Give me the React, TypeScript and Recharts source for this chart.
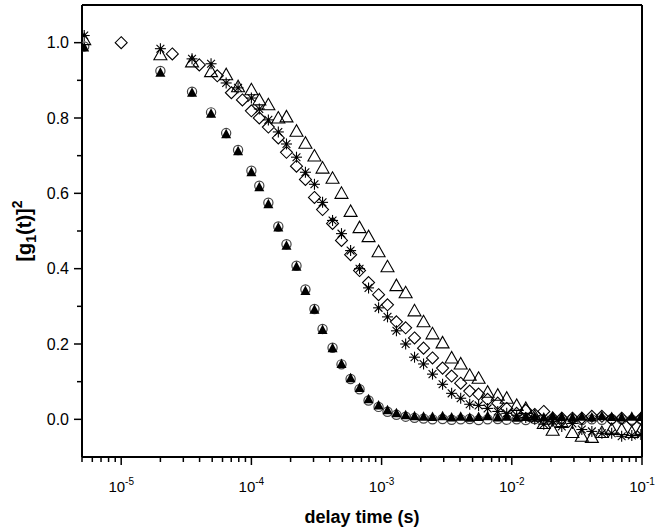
import { ScatterChart, Scatter, XAxis, YAxis, ReferenceLine } from "recharts";

// delay times (s) shared by most runs
const lagTimes = [
  5.2e-6, 2.0e-5, 3.5e-5, 4.9e-5, 6.4e-5, 7.9e-5, 1.0e-4, 1.15e-4, 1.35e-4, 1.61e-4,
  1.86e-4, 2.22e-4, 2.6e-4, 3.05e-4, 3.52e-4, 4.2e-4, 4.92e-4, 5.78e-4, 6.77e-4, 7.94e-4,
  9.48e-4, 1.11e-3, 1.3e-3, 1.53e-3, 1.79e-3, 2.1e-3, 2.46e-3, 2.94e-3, 3.45e-3, 4.05e-3,
  4.75e-3, 5.56e-3, 6.52e-3, 7.8e-3, 9.14e-3, 1.09e-2, 1.28e-2, 1.5e-2, 1.76e-2, 2.06e-2,
  2.42e-2, 2.92e-2, 3.45e-2, 4.12e-2, 4.92e-2, 5.85e-2, 6.98e-2, 8.35e-2, 9.8e-2,
];

const diamondTimes = [
  1.0e-5, 2.47e-5, 3.98e-5, 5.47e-5, 7.02e-5, 8.53e-5, 1.0e-4, 1.15e-4, 1.35e-4, 1.61e-4,
  1.86e-4, 2.22e-4, 2.6e-4, 3.05e-4, 3.52e-4, 4.2e-4, 4.92e-4, 5.78e-4, 6.77e-4, 7.94e-4,
  9.48e-4, 1.11e-3, 1.3e-3, 1.53e-3, 1.79e-3, 2.1e-3, 2.46e-3, 2.94e-3, 3.45e-3, 4.05e-3,
  4.75e-3, 5.56e-3, 6.52e-3, 7.8e-3, 9.14e-3, 1.09e-2, 1.28e-2, 1.5e-2, 1.76e-2, 2.06e-2,
  2.42e-2, 2.92e-2, 3.45e-2, 4.12e-2, 4.92e-2, 5.85e-2, 6.98e-2, 8.35e-2, 9.8e-2,
];

const circleValues = [
  0.99, 0.925, 0.87, 0.815, 0.76, 0.715, 0.66, 0.62, 0.575, 0.512,
  0.465, 0.408, 0.345, 0.293, 0.24, 0.19, 0.146, 0.107, 0.08, 0.05,
  0.033, 0.02, 0.012, 0.007, 0.004, 0.002, 0.0, 0.001, -0.001, 0.0,
  0.001, -0.002, 0.0, 0.001, -0.001, 0.0, -0.002, 0.001, 0.0, -0.001,
  0.0, 0.001, -0.002, 0.0, -0.001, 0.001, 0.0, -0.001, 0.0,
];

const filledTriangleValues = [
  0.987, 0.92, 0.867, 0.811, 0.757, 0.712, 0.656, 0.616, 0.571, 0.509,
  0.461, 0.405, 0.341, 0.291, 0.237, 0.189, 0.147, 0.109, 0.083, 0.053,
  0.037, 0.024, 0.016, 0.011, 0.008, 0.007, 0.006, 0.008, 0.005, 0.007,
  0.004, 0.006, 0.008, 0.005, 0.007, 0.004, 0.006, 0.007, 0.005, 0.008,
  0.006, 0.004, 0.007, 0.005, 0.008, 0.006, 0.005, 0.007, 0.006,
];

const diamondValues = [
  1.0, 0.97, 0.941, 0.912, 0.867, 0.848, 0.819, 0.8, 0.776, 0.747,
  0.709, 0.672, 0.637, 0.589, 0.557, 0.52, 0.475, 0.437, 0.395, 0.363,
  0.331, 0.304, 0.259, 0.243, 0.216, 0.189, 0.163, 0.136, 0.115, 0.096,
  0.075, 0.067, 0.053, 0.043, 0.029, 0.016, 0.024, 0.013, 0.021, 0.003,
  0.003, 0.003, 0.003, 0.008, 0.008, 0.0, 0.003, -0.003, 0.002,
];

const starValues = [
  1.019, 0.984, 0.957, 0.944, 0.893, 0.88, 0.853, 0.824, 0.795, 0.763,
  0.731, 0.696, 0.656, 0.624, 0.576, 0.528, 0.493, 0.448, 0.4, 0.349,
  0.296, 0.272, 0.235, 0.2, 0.165, 0.147, 0.12, 0.093, 0.069, 0.056,
  0.04, 0.037, 0.029, 0.021, 0.016, 0.011, 0.005, 0.0, -0.013, -0.005,
  -0.019, -0.011, -0.027, -0.032, -0.037, -0.037, -0.045, -0.043, -0.04,
];

const openTriangleValues = [
  1.008, 0.968, 0.949, 0.923, 0.915, 0.883, 0.875, 0.848, 0.835, 0.8,
  0.803, 0.765, 0.733, 0.699, 0.667, 0.64, 0.6, 0.552, 0.509, 0.485,
  0.445, 0.405, 0.355, 0.336, 0.288, 0.259, 0.227, 0.203, 0.163, 0.147,
  0.117, 0.109, 0.072, 0.064, 0.056, 0.037, 0.029, 0.008, -0.011, -0.029,
  -0.008, -0.035, -0.045, -0.048, -0.035, -0.027, -0.027, -0.035, -0.03,
];

const decadeTicks = [1e-5, 1e-4, 1e-3, 1e-2, 1e-1];
const minorSteps = [2, 3, 4, 5, 6, 7, 8, 9];
const yTicks = [0, 0.1, 0.2, 0.3, 0.4, 0.5, 0.6, 0.7, 0.8, 0.9, 1.0];

const xTicks = [
  ...[5, 6, 7, 8, 9].map((m) => m * 1e-6),
  ...decadeTicks.flatMap((d, i) =>
    i < decadeTicks.length - 1 ? [d, ...minorSteps.map((m) => m * d)] : [d]
  ),
];

const FONT = "'Liberation Sans', Arial, Helvetica, sans-serif";

const pts = (times: number[], vals: number[]) => times.map((t, i) => ({ t, v: vals[i] }));

function XTick({ x, y, payload }: any) {
  const e = Math.log10(payload.value);
  const major = Math.abs(e - Math.round(e)) < 1e-6;
  return (
    <g>
      <line x1={x} x2={x} y1={y} y2={y + (major ? 8 : 5)} stroke="#000" strokeWidth={1.5} />
      {major && (
        <text x={x} y={y + 35} textAnchor="middle" fontSize={15} fontFamily={FONT} fill="#000">
          10<tspan dy={-7} fontSize={10}>{Math.round(e)}</tspan>
        </text>
      )}
    </g>
  );
}

function YTick({ x, y, payload }: any) {
  const v = payload.value;
  const major = Math.round(v * 10) % 2 === 0;
  return (
    <g>
      <line x1={x} x2={x - (major ? 8 : 5)} y1={y} y2={y} stroke="#000" strokeWidth={1.5} />
      {major && (
        <text x={x - 13} y={y} dy="0.36em" textAnchor="end" fontSize={16} fontFamily={FONT} fill="#000">
          {v.toFixed(1)}
        </text>
      )}
    </g>
  );
}

const OpenCircle = ({ cx, cy }: any) => (
  <circle cx={cx} cy={cy} r={4.6} fill="none" stroke="#444" strokeWidth={1.2} />
);
const FilledTriangle = ({ cx, cy }: any) => (
  <polygon points={`${cx},${cy - 5.5} ${cx - 5},${cy + 4} ${cx + 5},${cy + 4}`} fill="#000" />
);
const OpenTriangle = ({ cx, cy }: any) => (
  <polygon
    points={`${cx},${cy - 6.5} ${cx - 6.5},${cy + 5} ${cx + 6.5},${cy + 5}`}
    fill="none" stroke="#000" strokeWidth={1.1}
  />
);
const Diamond = ({ cx, cy }: any) => (
  <polygon
    points={`${cx},${cy - 6} ${cx + 6},${cy} ${cx},${cy + 6} ${cx - 6},${cy}`}
    fill="none" stroke="#000" strokeWidth={1.1}
  />
);
const Star = ({ cx, cy }: any) => {
  const r = 5.5, d = 3.9;
  return (
    <g stroke="#000" strokeWidth={1.1}>
      <line x1={cx} y1={cy - r} x2={cx} y2={cy + r} />
      <line x1={cx - r} y1={cy} x2={cx + r} y2={cy} />
      <line x1={cx - d} y1={cy - d} x2={cx + d} y2={cy + d} />
      <line x1={cx - d} y1={cy + d} x2={cx + d} y2={cy - d} />
      <circle cx={cx} cy={cy} r={1.5} fill="#000" stroke="none" />
    </g>
  );
};

const XTitle = () => (
  <text x={362} y={523} textAnchor="middle" fontSize={18} fontWeight="bold" fontFamily={FONT} fill="#000">
    delay time (s)
  </text>
);

const YTitle = () => (
  <text
    x={31} y={231} transform="rotate(-90 31 231)" textAnchor="middle"
    fontSize={20} fontWeight="bold" fontFamily={FONT} fill="#000"
  >
    [g<tspan dy={5} fontSize={14}>1</tspan>
    <tspan dy={-5}>(t)]</tspan>
    <tspan dy={-9} fontSize={14}>2</tspan>
  </text>
);

export default function App() {
  return (
    <div style={{ position: "absolute", left: 0, top: 0, background: "#fff" }}>
      <ScatterChart width={660} height={532} margin={{ top: 5, right: 18, bottom: 0, left: 0 }}>
        <XAxis
          type="number" dataKey="t" scale="log" domain={[5e-6, 0.1]} allowDataOverflow
          ticks={xTicks} interval={0} tick={<XTick />} tickLine={false} tickSize={0} tickMargin={0}
          height={75} axisLine={{ stroke: "#000", strokeWidth: 2 }} label={<XTitle />}
        />
        <YAxis
          type="number" dataKey="v" domain={[-0.1, 1.1]} allowDataOverflow
          ticks={yTicks} interval={0} tick={<YTick />} tickLine={false} tickSize={0} tickMargin={0}
          width={82} axisLine={{ stroke: "#000", strokeWidth: 2 }} label={<YTitle />}
        />
        <ReferenceLine y={1.1} stroke="#000" strokeWidth={2} ifOverflow="visible" />
        <ReferenceLine x={0.1} stroke="#000" strokeWidth={2} ifOverflow="visible" />
        <Scatter data={pts(lagTimes, circleValues)} shape={OpenCircle} isAnimationActive={false} />
        <Scatter data={pts(lagTimes, filledTriangleValues)} shape={FilledTriangle} isAnimationActive={false} />
        <Scatter data={pts(diamondTimes, diamondValues)} shape={Diamond} isAnimationActive={false} />
        <Scatter data={pts(lagTimes, starValues)} shape={Star} isAnimationActive={false} />
        <Scatter data={pts(lagTimes, openTriangleValues)} shape={OpenTriangle} isAnimationActive={false} />
      </ScatterChart>
    </div>
  );
}
